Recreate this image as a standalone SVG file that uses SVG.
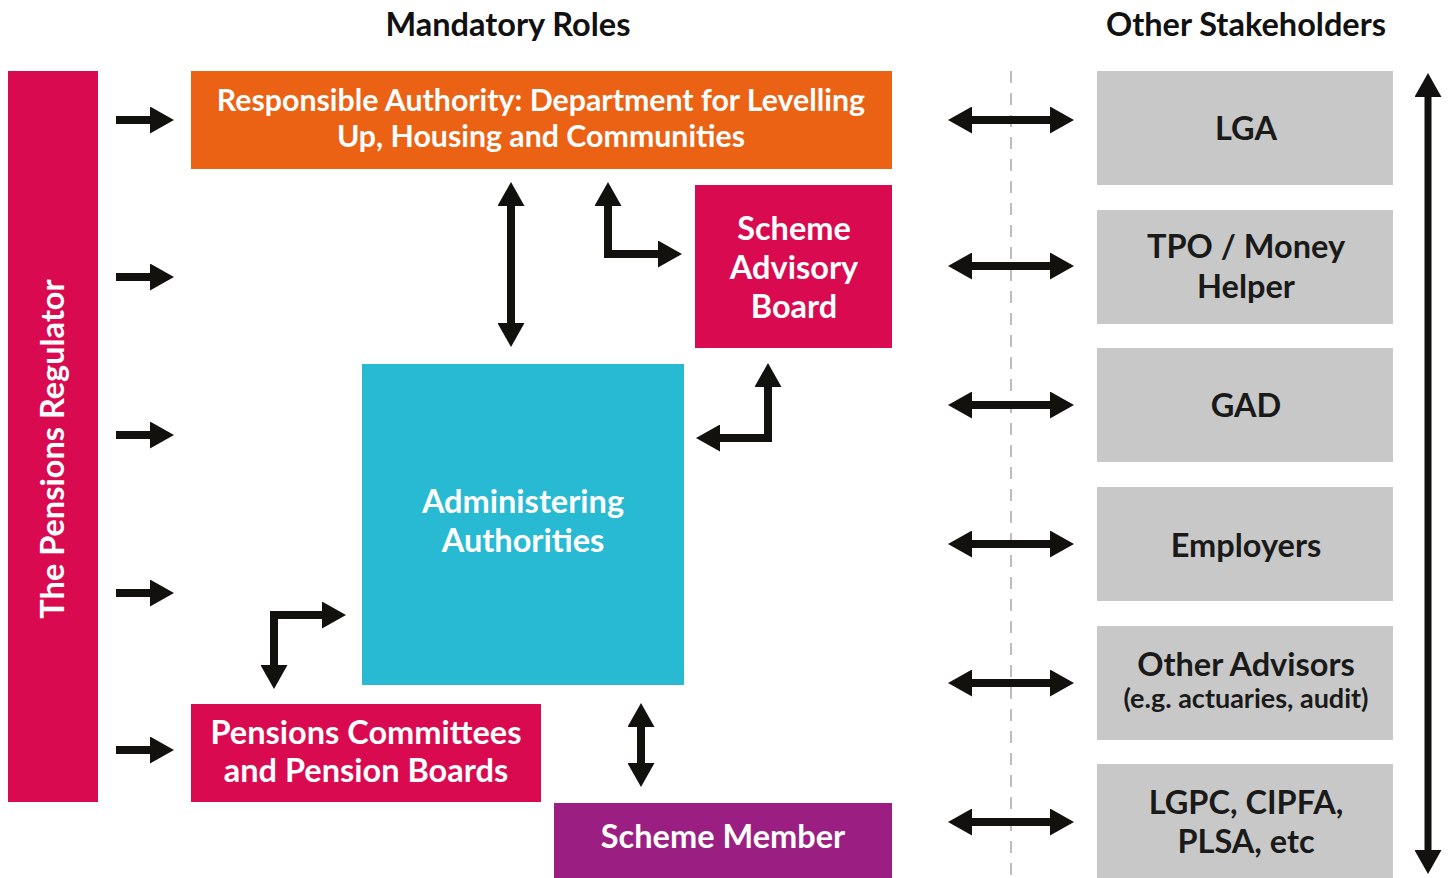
<svg xmlns="http://www.w3.org/2000/svg" width="1450" height="878" viewBox="0 0 1450 878">
<defs>
<style>
text{font-family:Lato,"Open Sans","Liberation Sans",sans-serif;font-weight:700;text-anchor:middle}
.h{font-size:32.5px;fill:#111}
.w{fill:#fff;font-size:32.5px}
.d{fill:#1a1a1a;font-size:32.5px}
.s{fill:#1a1a1a;font-size:27px}
.crim{fill:#d90a50}
.gray{fill:#c8c8c8}
.c line,.c polyline{stroke:#12110d;stroke-width:8;fill:none;stroke-linejoin:miter;marker-end:url(#ah)}
.c .dbl{marker-start:url(#ah)}
</style>
<marker id="ah" viewBox="0 0 24 27" refX="1" refY="13.5" markerWidth="24" markerHeight="27" markerUnits="userSpaceOnUse" orient="auto-start-reverse">
<path d="M0,0 L24,13.5 L0,27 Z" fill="#12110d"/>
</marker>
</defs>
<rect width="1450" height="878" fill="#fff"/>
<text class="h" x="508" y="36">Mandatory Roles</text>
<text class="h" x="1246" y="36">Other Stakeholders</text>
<line x1="1011" y1="71" x2="1011" y2="878" stroke="#bdbdbd" stroke-width="2" stroke-dasharray="12 10"/>
<g id="regulator"><rect class="crim" x="8" y="71" width="90" height="731"/><text class="w" transform="translate(64,449) rotate(-90)">The Pensions Regulator</text></g>
<g id="responsible"><rect x="191" y="71" width="701" height="98" fill="#eb6214"/><text class="w" style="font-size:30.3px" x="541" y="111">Responsible Authority: Department for Levelling</text><text class="w" style="font-size:30.3px" x="541" y="147">Up, Housing and Communities</text></g>
<g id="sab"><rect class="crim" x="695" y="185" width="197" height="163"/><text class="w" x="794" y="240">Scheme</text><text class="w" x="794" y="279">Advisory</text><text class="w" x="794" y="318">Board</text></g>
<g id="admin"><rect x="362" y="364" width="322" height="321" fill="#28b9d3"/><text class="w" x="523" y="513">Administering</text><text class="w" x="523" y="552">Authorities</text></g>
<g id="committees"><rect class="crim" x="191" y="704" width="350" height="98"/><text class="w" x="366" y="744">Pensions Committees</text><text class="w" x="366" y="782">and Pension Boards</text></g>
<g id="member"><rect x="554" y="803" width="338" height="75" fill="#9b1f82"/><text class="w" x="723" y="848">Scheme Member</text></g>
<g id="lga"><rect class="gray" x="1097" y="71" width="296" height="114"/><text class="d" x="1246" y="140">LGA</text></g>
<g id="tpo"><rect class="gray" x="1097" y="210" width="296" height="114"/><text class="d" x="1246" y="258">TPO / Money</text><text class="d" x="1246" y="298">Helper</text></g>
<g id="gad"><rect class="gray" x="1097" y="348" width="296" height="114"/><text class="d" x="1246" y="417">GAD</text></g>
<g id="employers"><rect class="gray" x="1097" y="487" width="296" height="114"/><text class="d" x="1246" y="557">Employers</text></g>
<g id="advisors"><rect class="gray" x="1097" y="626" width="296" height="114"/><text class="d" x="1246" y="676">Other Advisors</text><text class="s" x="1246" y="708">(e.g. actuaries, audit)</text></g>
<g id="lgpc"><rect class="gray" x="1097" y="764" width="296" height="114"/><text class="d" x="1246" y="814">LGPC, CIPFA,</text><text class="d" x="1246" y="853">PLSA, etc</text></g>
<g id="connectors" class="c">
<line x1="116" y1="120" x2="151" y2="120"/>
<line x1="116" y1="277" x2="151" y2="277"/>
<line x1="116" y1="435" x2="151" y2="435"/>
<line x1="116" y1="593" x2="151" y2="593"/>
<line x1="116" y1="750" x2="151" y2="750"/>
<line class="dbl" x1="511" y1="205" x2="511" y2="324"/>
<polyline class="dbl" points="608,205 608,254 659,254"/>
<polyline class="dbl" points="719,438 768,438 768,386"/>
<polyline class="dbl" points="274,666 274,615 323,615"/>
<line class="dbl" x1="641" y1="726" x2="641" y2="764"/>
<line class="dbl" x1="971" y1="120" x2="1051" y2="120"/>
<line class="dbl" x1="971" y1="266" x2="1051" y2="266"/>
<line class="dbl" x1="971" y1="405" x2="1051" y2="405"/>
<line class="dbl" x1="971" y1="544" x2="1051" y2="544"/>
<line class="dbl" x1="971" y1="683" x2="1051" y2="683"/>
<line class="dbl" x1="971" y1="822" x2="1051" y2="822"/>
<line class="dbl" x1="1428" y1="96" x2="1428" y2="851" style="stroke-width:7"/>
</g>
</svg>
